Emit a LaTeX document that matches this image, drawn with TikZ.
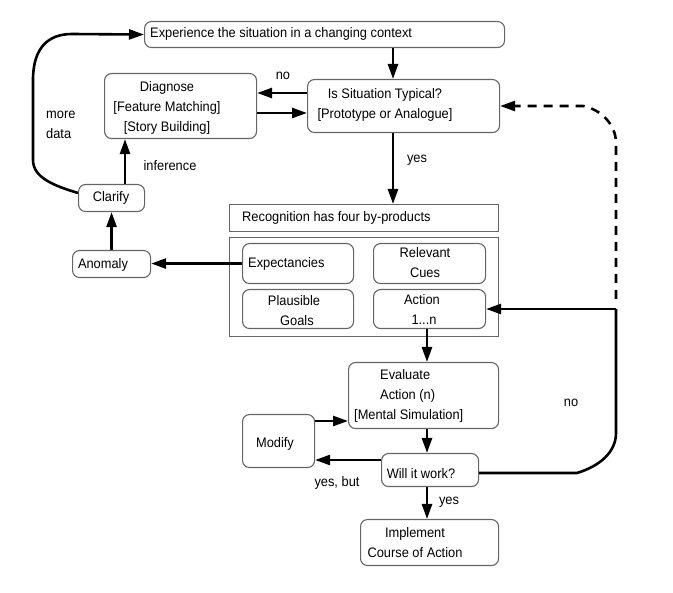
\documentclass[tikz,border=0pt]{standalone}
\usepackage{fontspec}
\setmainfont{Liberation Sans}[FakeStretch=0.93]
\usetikzlibrary{arrows.meta}
\begin{document}
\begin{tikzpicture}[x=1pt,y=-1pt,
  box/.style={draw=black!60, line width=1.1pt, rounded corners=7pt, anchor=north west, inner sep=0pt},
  sbox/.style={draw=black!60, line width=1.1pt, anchor=north west, inner sep=0pt},
  txt/.style={font=\fontsize{13.8}{20}\selectfont, inner sep=0pt, align=center},
  arr/.style={line width=2.6pt, -{Triangle[length=15pt,width=10pt]}},
  ]
\useasboundingbox (0,0) rectangle (673,593);
% boxes
\node[box, minimum width=360pt, minimum height=26pt] (exp) at (144,21) {};
\node[box, minimum width=192pt, minimum height=53pt] (typ) at (307,79) {};
\node[box, minimum width=152pt, minimum height=65pt] (diag) at (104,73) {};
\node[box, minimum width=66pt, minimum height=27pt] (clar) at (78,184) {};
\node[sbox, minimum width=269pt, minimum height=27pt] (rec) at (229,204) {};
\node[sbox, minimum width=269pt, minimum height=99pt] (outer) at (229,237) {};
\node[box, minimum width=111pt, minimum height=40pt] (expc) at (242,243) {};
\node[box, minimum width=112pt, minimum height=40pt] (rel) at (373,243) {};
\node[box, minimum width=111pt, minimum height=39pt] (pla) at (242,289) {};
\node[box, minimum width=112pt, minimum height=39pt] (act) at (373,289) {};
\node[box, minimum width=78pt, minimum height=27pt] (anom) at (72,250) {};
\node[box, minimum width=150pt, minimum height=66pt] (eval) at (348,362) {};
\node[box, minimum width=72pt, minimum height=53pt] (mod) at (242,414) {};
\node[box, minimum width=97pt, minimum height=33pt] (will) at (381,453) {};
\node[box, minimum width=138pt, minimum height=46pt] (impl) at (360,519) {};
% texts
\node[txt, anchor=west] (expt) at (150,34) {Experience the situation in a changing context};
\node[txt] (typt) at (385,105) {Is Situation Typical?\\{}[Prototype or Analogue]};
\node[txt] (diagt) at (167,108) {Diagnose\\{}[Feature Matching]\\{}[Story Building]};
\node[txt] (clart) at (111,198) {Clarify};
\node[txt, anchor=west] (rect) at (242,218) {Recognition has four by-products};
\node[txt, anchor=west] (expct) at (248,264) {Expectancies};
\node[txt] (relt) at (425,263) {Relevant\\Cues};
\node[txt] (plat) at (294,311) {Plausible\\\hspace*{6pt}Goals};
\node[txt] (actt) at (422,310) {Action\\\hspace*{4pt}1...n};
\node[txt] (anomt) at (103,265) {Anomaly};
\node[txt, anchor=west, align=left] (evalt) at (354,396) {\hspace*{26pt}Evaluate\\\hspace*{26pt}Action (n)\\{}[Mental Simulation]};
\node[txt] (modt) at (275,444) {Modify};
\node[txt] (willt) at (421,474) {Will it work?};
\node[txt] (implt) at (415,543) {Implement\\Course of Action};
% labels
\node[txt] (lno1) at (283,76) {no};
\node[txt, anchor=west, align=left] (lmore) at (46,124.5) {more\\data};
\node[txt] (linf) at (170,166) {inference};
\node[txt] (lyes1) at (417,160) {yes};
\node[txt] (lyesbut) at (337,483) {yes, but};
\node[txt] (lyes2) at (449,502) {yes};
\node[txt] (lno2) at (571,403) {no};
% helper coordinates
\coordinate (ax) at (393,0);
\coordinate (yno) at (0,93);
\coordinate (yback) at (0,113);
\coordinate (xinf) at (125,0);
\coordinate (xact) at (427,0);
\coordinate (ymod) at (0,421);
\coordinate (ywill) at (0,460);
\coordinate (ywr) at (0,473);
\coordinate (yc) at (0,193);
\coordinate (ydash) at (0,106);
\coordinate (j) at (616,309);
% connectors
\draw[arr] (exp.south -| ax) -- (typ.north -| ax);
\draw[arr] (typ.south -| ax) -- (rec.north -| ax);
\draw[arr] (typ.west |- yno) -- (diag.east |- yno);
\draw[arr] (diag.east |- yback) -- (typ.west |- yback);
\draw[arr] (clar.north -| xinf) -- (diag.south -| xinf);
\draw[arr] (anom.north) -- (clar.south -| anom.north);
\draw[arr] (expc.west) -- (anom.east |- expc.west);
\draw[arr] (act.south -| xact) -- (eval.north -| xact);
\draw[arr] (eval.south -| xact) -- (will.north -| xact);
\draw[arr] (will.south -| xact) -- (impl.north -| xact);
\draw[arr] (mod.east |- ymod) -- (eval.west |- ymod);
\draw[arr] (will.west |- ywill) -- (mod.east |- ywill);
\draw[arr] (clar.west |- yc) .. controls (55,186) and (33,178) .. (33,160) -- (33,80)
  .. controls (33,48) and (48,34) .. (72,34) -- (exp.west);
\draw[line width=2.6pt] (will.east |- ywr) -- (577,473) .. controls (600,466) and (616,452) .. (616,433) -- (j);
\draw[arr] (j) -- (act.east |- j);
\draw[arr, dash pattern=on 9pt off 7pt] (616,299) -- (616,143) .. controls (616,124) and (600,109) .. (583,106) -- (typ.east |- ydash);
\end{tikzpicture}
\end{document}
